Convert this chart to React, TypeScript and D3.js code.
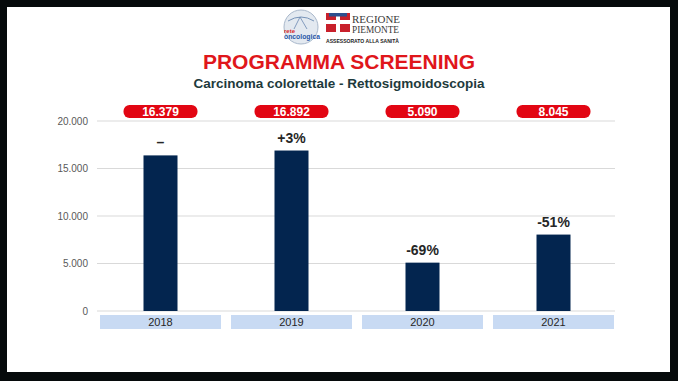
import React from "react";
import * as d3 from "d3";

const years = ["2018", "2019", "2020", "2021"];
const values = [16379, 16892, 5090, 8045];
const valueLabels = ["16.379", "16.892", "5.090", "8.045"];
const changeLabels = ["–", "+3%", "-69%", "-51%"];
const yTicks = [0, 5000, 10000, 15000, 20000];

const W = 678;
const H = 381;

export default function App() {
  const x = d3.scaleBand<string>().domain(years).range([95, 619]).padding(0);
  const y = d3.scaleLinear().domain([0, 20000]).range([311, 121]);
  const step = x.step();
  const barW = 34;
  const boxW = step - 10;
  const fmt = (v: number) => (v === 0 ? "0" : d3.format(",")(v).replace(/,/g, "."));
  const font = "Liberation Sans, Arial, sans-serif";

  return (
    <div style={{ position: "fixed", left: 0, top: 0, width: W, height: H }}>
      <svg width={W} height={H} style={{ display: "block", fontFamily: font }}>
        <rect x={0} y={0} width={W} height={H} fill="#060a0b" />
        <rect x={7} y={7} width={663} height={365} fill="#ffffff" />

        {/* Logos */}
        <g>
          <circle cx={301} cy={27} r={17} fill="#e3e9f0" stroke="#a9b8cb" strokeWidth={1} />
          <path d="M288,21 Q301,13 314,21" fill="none" stroke="#5a7ca8" strokeWidth={0.8} />
          <path d="M294,29 L300,17 L307,29" fill="none" stroke="#6a86b0" strokeWidth={0.8} />
          <text x={284} y={33} fontSize={6} fontWeight="bold" fill="#d8262b">rete</text>
          <text x={284} y={39} fontSize={6.5} fontWeight="bold" fill="#2a58a8" textLength={36} lengthAdjust="spacingAndGlyphs">oncologica</text>
          <rect x={326} y={13} width={24} height={19} fill="#c8202b" />
          <rect x={336} y={13} width={4} height={19} fill="#ffffff" />
          <rect x={326} y={20} width={24} height={4} fill="#ffffff" />
          <rect x={329} y={13} width={18} height={3.5} fill="#2d4f8e" />
          <text x={352} y={22.5} fontSize={10.5} fontFamily="Liberation Serif, serif" fill="#3a3a3a" textLength={48} lengthAdjust="spacingAndGlyphs">REGIONE</text>
          <text x={352} y={33} fontSize={10.5} fontFamily="Liberation Serif, serif" fill="#3a3a3a" textLength={47} lengthAdjust="spacingAndGlyphs">PIEMONTE</text>
          <text x={326} y={43} fontSize={5.5} fontWeight="bold" fill="#222" textLength={73} lengthAdjust="spacingAndGlyphs">ASSESSORATO ALLA SANITÀ</text>
        </g>

        <text x={339} y={69} textAnchor="middle" fontSize={21} fontWeight="bold" fill="#e0161b">
          PROGRAMMA SCREENING
        </text>
        <text x={339} y={88} textAnchor="middle" fontSize={13.5} fontWeight="bold" fill="#1e3a3c">
          Carcinoma colorettale - Rettosigmoidoscopia
        </text>

        {/* gridlines & y ticks */}
        {yTicks.map((t) => (
          <g key={t}>
            <line x1={97} x2={615} y1={y(t)} y2={y(t)} stroke="#d9d9d9" strokeWidth={1} />
            <text x={88} y={y(t) + 3.5} textAnchor="end" fontSize={10} fill="#595959">
              {fmt(t)}
            </text>
          </g>
        ))}

        {years.map((yr, i) => {
          const cx = (x(yr) as number) + step / 2;
          return (
            <g key={yr}>
              <rect x={cx - barW / 2} y={y(values[i])} width={barW} height={y(0) - y(values[i])} fill="#03254f" />
              <text x={cx} y={y(values[i]) - 8} textAnchor="middle" fontSize={14} fontWeight="bold" fill="#262626">
                {changeLabels[i]}
              </text>
              <rect x={cx - boxW / 2} y={315} width={boxW} height={14} fill="#c8daf3" />
              <text x={cx} y={326} textAnchor="middle" fontSize={11} fill="#262626">
                {yr}
              </text>
              <rect x={cx - 37} y={105} width={74} height={13} rx={6} fill="#e20613" />
              <text x={cx} y={115.5} textAnchor="middle" fontSize={12} fontWeight="bold" fill="#ffffff">
                {valueLabels[i]}
              </text>
            </g>
          );
        })}
      </svg>
    </div>
  );
}
